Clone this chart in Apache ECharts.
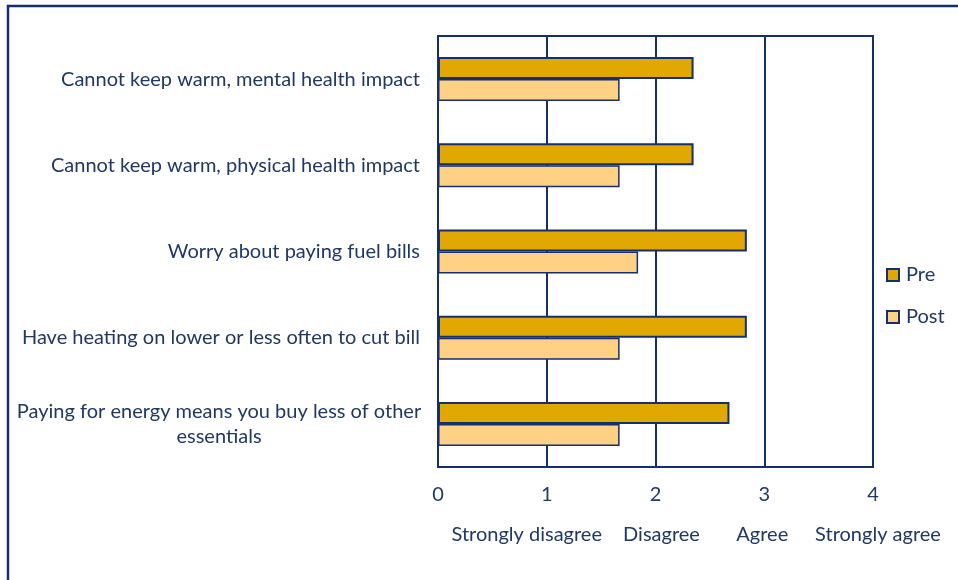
<!DOCTYPE html>
<html>
<head>
<meta charset="utf-8">
<script src="https://cdn.jsdelivr.net/npm/echarts@6/dist/echarts.min.js"></script>
<style>
  html, body { margin: 0; padding: 0; background: #fff; }
  #chart { width: 958px; height: 580px; }
</style>
</head>
<body>
<div id="chart"></div>
<script>
// Survey statements, top to bottom
const categories = [
  'Cannot keep warm, mental health impact',
  'Cannot keep warm, physical health impact',
  'Worry about paying fuel bills',
  'Have heating on lower or less often to cut bill',
  'Paying for energy means you buy less of other\nessentials'
];
// Mean agreement scores
const preValues = [2.35, 2.35, 2.84, 2.84, 2.68];
const postValues = [1.67, 1.67, 1.84, 1.67, 1.67];
// Scale tick labels and the descriptors shown under ticks 1..4
const scaleTicks = ['0', '1', '2', '3', '4'];
const scaleWords = ['', 'Strongly disagree', 'Disagree', 'Agree', 'Strongly agree'];

const NAVY = '#142f6b';
const TEXT = '#1f3864';
const FONT = 'Lato';
const FS = 20;

const chart = echarts.init(document.getElementById('chart'));
chart.setOption({
  animation: false,
  textStyle: { fontFamily: FONT },
  grid: {
    left: 438, top: 36, right: 85, bottom: 113,
    show: true, borderColor: NAVY, borderWidth: 2
  },
  legend: {
    orient: 'vertical',
    left: 881, top: 260,
    itemWidth: 12, itemHeight: 12, itemGap: 22,
    icon: 'rect',
    textStyle: { color: TEXT, fontSize: FS, fontFamily: FONT, padding: [0, 0, 0, 2] },
    data: ['Pre', 'Post']
  },
  xAxis: [{
    type: 'value', min: 0, max: 4, interval: 1,
    axisLine: { show: true, lineStyle: { color: NAVY, width: 2 } },
    axisTick: { show: false },
    splitLine: { show: true, lineStyle: { color: NAVY, width: 2 } },
    axisLabel: { color: TEXT, fontSize: FS, margin: 18, fontFamily: FONT,
      formatter: v => scaleTicks[v] }
  }, {
    type: 'value', min: 0, max: 4, interval: 1, position: 'bottom',
    axisLine: { show: false }, axisTick: { show: false }, splitLine: { show: false },
    axisLabel: {
      margin: 58, color: TEXT, fontSize: FS, fontFamily: FONT,
      formatter: v => '{w' + v + '|' + scaleWords[v] + '}',
      rich: {
        w0: { color: TEXT, fontSize: FS, fontFamily: FONT },
        w1: { color: TEXT, fontSize: FS, fontFamily: FONT, padding: [0, 40, 0, 0] },
        w2: { color: TEXT, fontSize: FS, fontFamily: FONT, padding: [0, 0, 0, 12] },
        w3: { color: TEXT, fontSize: FS, fontFamily: FONT, padding: [0, 4, 0, 0] },
        w4: { color: TEXT, fontSize: FS, fontFamily: FONT, padding: [0, 0, 0, 10] }
      }
    }
  }],
  yAxis: {
    type: 'category', inverse: true, data: categories,
    axisLine: { show: false }, axisTick: { show: false },
    axisLabel: {
      color: TEXT, fontSize: FS, margin: 18, fontFamily: FONT, lineHeight: 25,
      formatter: v => v.indexOf('\n') >= 0 ? '{c|' + v + '}' : v,
      rich: { c: { width: 402, align: 'center', color: TEXT, fontSize: FS, fontFamily: FONT, lineHeight: 25 } }
    }
  },
  series: [{
    name: 'Pre', type: 'bar', data: preValues, barWidth: 22, barGap: '0%',
    itemStyle: { color: '#e0a800', borderColor: NAVY, borderWidth: 2 }
  }, {
    name: 'Post', type: 'bar', data: postValues, barWidth: 22, barGap: '0%',
    itemStyle: { color: '#ffd185', borderColor: NAVY, borderWidth: 1.5 }
  }],
  graphic: [{
    type: 'rect', silent: true,
    shape: { x: 8, y: 6, width: 1000, height: 1000 },
    style: { fill: 'none', stroke: NAVY, lineWidth: 2.5 }
  }]
});
</script>
</body>
</html>
